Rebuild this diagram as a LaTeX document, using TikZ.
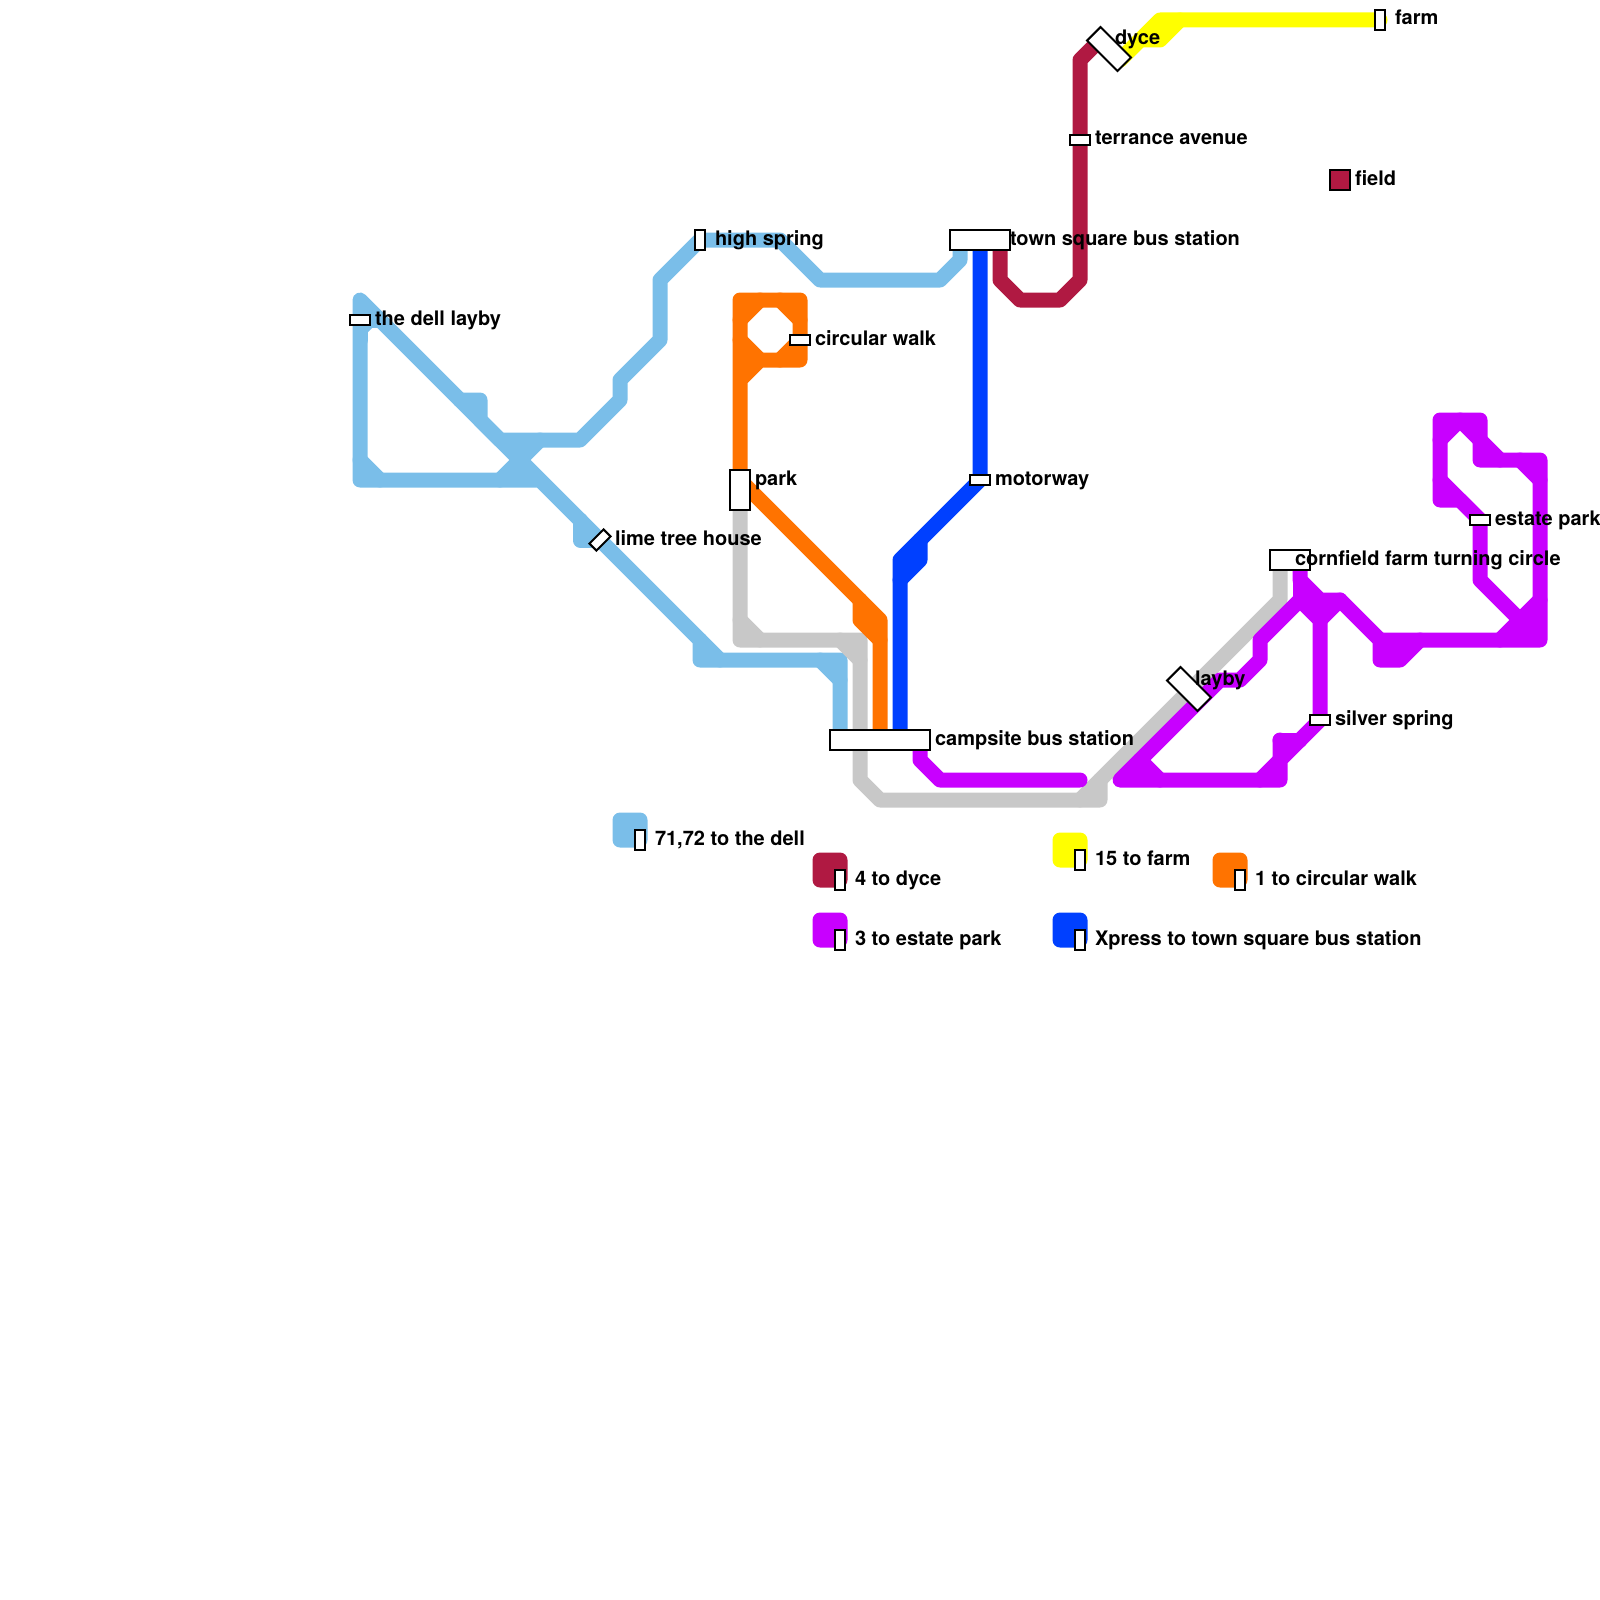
\documentclass[tikz,border=0pt]{standalone}
\usepackage{fontspec}
\setmainfont{TeX Gyre Heros}
\pgfdeclarelayer{lines}
\pgfsetlayers{lines,main}
\definecolor{cblue}{HTML}{7ABEE9}
\definecolor{ccrim}{HTML}{B01942}
\definecolor{corange}{HTML}{FF7300}
\definecolor{cpurple}{HTML}{C800FF}
\definecolor{cdeep}{HTML}{0040FF}
\definecolor{cyell}{HTML}{FFFF00}
\definecolor{cgrey}{HTML}{C8C8C8}
\tikzset{
  x=1pt,y=-1pt,
  route/.style={line width=15pt,line cap=round,line join=round},
  stn/.style={draw=black,fill=white,line width=2pt,inner sep=0pt,outer sep=0pt,minimum width=#1},
  hs/.style={stn=20pt,minimum height=10pt},
  vs/.style={stn=10pt,minimum height=20pt},
  lbl/.style={anchor=base west,inner sep=0pt,outer sep=0pt,font=\bfseries\fontsize{20pt}{20pt}\selectfont,text=black},
  swatch/.style={fill=#1,draw=none,minimum size=35pt,rounded corners=7.5pt,inner sep=0pt,outer sep=0pt}
}
\begin{document}
\begin{tikzpicture}
\useasboundingbox (0,0) rectangle (1600,1600);
% legend swatches
\node[swatch=cblue] (sw71) at (630,830) {};
\node[swatch=ccrim] (sw4) at (830,870) {};
\node[swatch=cpurple] (sw3) at (830,930) {};
\node[swatch=cyell] (sw15) at (1070,850) {};
\node[swatch=cdeep] (swx) at (1070,930) {};
\node[swatch=corange] (sw1) at (1230,870) {};
% stations
\node[hs] (dell) at (360,320) {};
\node[vs] (spring) at (700,240) {};
\node[hs,rotate=45] (lime) at (600,540) {};
\node[hs] (walk) at (800,340) {};
\node[stn=20pt,minimum height=40pt] (park) at (740,490) {};
\node[hs] (motorway) at (980,480) {};
\node[stn=100pt,minimum height=20pt] (camp) at (880,740) {};
\node[stn=60pt,minimum height=20pt] (town) at (980,240) {};
\node[hs] (terrance) at (1080,140) {};
\node[stn=43pt,minimum height=19pt,rotate=-45] (dyce) at (1109,49) {};
\node[vs] (farm) at (1380,20) {};
\node[stn=20pt,minimum height=20pt,fill=ccrim] (field) at (1340,180) {};
\node[stn=40pt,minimum height=20pt] (corn) at (1290,560) {};
\node[stn=43pt,minimum height=19pt,rotate=-45] (layby) at (1189,689) {};
\node[hs] (silver) at (1320,720) {};
\node[hs] (estate) at (1480,520) {};
\node[vs] (k71) at (640,840) {};
\node[vs] (k4) at (840,880) {};
\node[vs] (k3) at (840,940) {};
\node[vs] (k15) at (1080,860) {};
\node[vs] (kx) at (1080,940) {};
\node[vs] (k1) at (1240,880) {};
% labels
\node[lbl] (t1) at (375,325) {the dell layby};
\node[lbl] (t2) at (715,245) {high spring};
\node[lbl] (t3) at (615,545) {lime tree house};
\node[lbl] (t4) at (815,345) {circular walk};
\node[lbl] (t5) at (755,485) {park};
\node[lbl] (t6) at (995,485) {motorway};
\node[lbl] (t7) at (935,745) {campsite bus station};
\node[lbl] (t8) at (1010,245) {town square bus station};
\node[lbl] (t9) at (1095,145) {terrance avenue};
\node[lbl] (t10) at (1115,45) {dyce};
\node[lbl] (t11) at (1395,25) {farm};
\node[lbl] (t12) at (1355,185) {field};
\node[lbl] (t13) at (1295,565) {cornfield farm turning circle};
\node[lbl] (t14) at (1195,685) {layby};
\node[lbl] (t15) at (1335,725) {silver spring};
\node[lbl] (t16) at (1495,525) {estate park};
\node[lbl] (t17) at (655,845) {71,72 to the dell};
\node[lbl] (t18) at (855,885) {4 to dyce};
\node[lbl] (t19) at (855,945) {3 to estate park};
\node[lbl] (t20) at (1095,865) {15 to farm};
\node[lbl] (t21) at (1095,945) {Xpress to town square bus station};
\node[lbl] (t22) at (1255,885) {1 to circular walk};
\begin{pgfonlayer}{lines}
% 71,72
\fill[cblue] (360,300) -- (380,320) -- (360,340) -- cycle
  (360,460) -- (380,480) -- (360,480) -- cycle
  (460,400) -- (480,400) -- (480,420) -- cycle
  (500,440) -- (540,440) -- (520,460) -- cycle
  (500,480) -- (540,480) -- (520,460) -- cycle
  (580,520) -- (600,540) -- (580,540) -- cycle
  (700,640) -- (720,660) -- (700,660) -- cycle
  (820,660) -- (840,660) -- (840,680) -- cycle;
\draw[route,cblue] ([xshift=-40pt]camp.center) -- (840,660) -- (700,660) -- (700,640) -- (lime.center) -- (580,520) -- (360,300) -- (dell.center) -- (360,480) -- (540,480);
\draw[route,cblue] (lime.center) -- (580,540) -- (580,520);
\draw[route,cblue] (360,340) -- (dell.center) -- (380,320);
\draw[route,cblue] (360,460) -- (380,480);
\draw[route,cblue] (700,640) -- (720,660);
\draw[route,cblue] (820,660) -- (840,680);
\draw[route,cblue] (500,480) -- (540,440);
\draw[route,cblue] (460,400) -- (480,400) -- (480,420) -- (500,440) -- (580,440) -- (620,400) -- (620,380) -- (660,340) -- (660,280) -- (spring.center) -- (780,240) -- (820,280) -- (940,280) -- (960,260) -- ([xshift=-20pt]town.center);
% grey
\fill[cgrey] (740,620) -- (760,640) -- (740,640) -- cycle
  (840,640) -- (860,640) -- (860,660) -- cycle
  (1080,800) -- (1100,780) -- (1100,800) -- cycle;
\draw[route,cgrey] (park.center) -- (740,640) -- (860,640) -- (860,780) -- (880,800) -- (1100,800) -- (1100,780);
\draw[route,cgrey] (740,620) -- (760,640);
\draw[route,cgrey] (840,640) -- (860,660);
\draw[route,cgrey] (1080,800) -- (1280,600) -- ([xshift=-10pt]corn.center);
% orange
\fill[corange] (740,300) -- (760,300) -- (740,320) -- cycle
  (780,300) -- (800,300) -- (800,320) -- cycle
  (800,340) -- (800,360) -- (780,360) -- cycle
  (740,340) -- (760,360) -- (740,380) -- cycle
  (860,600) -- (880,620) -- (880,640) -- (860,620) -- cycle;
\draw[route,corange] (park.center) -- (740,300) -- (800,300) -- (800,360) -- (760,360) -- (740,380);
\draw[route,corange] (740,320) -- (760,300);
\draw[route,corange] (780,300) -- (800,320);
\draw[route,corange] (740,340) -- (760,360);
\draw[route,corange] (780,360) -- (walk.center);
\draw[route,corange] ([yshift=10pt]park.center) -- (880,620) -- (camp.center);
\draw[route,corange] (860,600) -- (860,620) -- (880,640);
% xpress
\fill[cdeep] (900,560) -- (920,540) -- (920,560) -- (900,580) -- cycle;
\draw[route,cdeep] (town.center) -- (motorway.center) -- (900,560) -- ([xshift=20pt]camp.center);
\draw[route,cdeep] (920,540) -- (920,560) -- (900,580);
% 4
\draw[route,ccrim] ([xshift=20pt]town.center) -- (1000,280) -- (1020,300) -- (1060,300) -- (1080,280) -- (terrance.center) -- (1080,60) -- ([shift={(-9pt,9pt)}]dyce.center);
% 15
\fill[cyell] (1160,20) -- (1180,20) -- (1160,40) -- (1140,40) -- cycle;
\draw[route,cyell] (farm.center) -- (1160,20) -- (1120,60);
\draw[route,cyell] (1180,20) -- (1160,40) -- (1140,40) -- (1120,60);
% 3
\fill[cpurple] (1120,780) -- (1140,760) -- (1160,780) -- cycle
  (1260,780) -- (1280,760) -- (1280,780) -- cycle
  (1280,740) -- (1300,740) -- (1280,760) -- cycle
  (1300,580) -- (1320,600) -- (1340,600) -- (1320,620) -- (1300,600) -- cycle
  (1380,640) -- (1420,640) -- (1400,660) -- (1380,660) -- cycle
  (1520,620) -- (1540,600) -- (1540,640) -- cycle
  (1500,640) -- (1540,640) -- (1520,620) -- cycle
  (1520,460) -- (1540,460) -- (1540,480) -- cycle
  (1480,440) -- (1500,460) -- (1480,460) -- cycle
  (1440,420) -- (1460,420) -- (1440,440) -- cycle
  (1460,420) -- (1480,420) -- (1480,440) -- cycle
  (1440,480) -- (1460,500) -- (1440,500) -- cycle;
\draw[route,cpurple] ([xshift=40pt]camp.center) -- (920,760) -- (940,780) -- (1080,780);
\draw[route,cpurple] (1280,740) -- (1280,780) -- (1120,780) -- (1220,680) -- (1240,680) -- (1260,660) -- (1260,640) -- (1300,600) -- (1320,620) -- (silver.center) -- (1280,760);
\draw[route,cpurple] (1140,760) -- (1160,780);
\draw[route,cpurple] (1260,780) -- (1280,760);
\draw[route,cpurple] (1280,740) -- (1300,740);
\draw[route,cpurple] ([xshift=10pt]corn.center) -- (1300,580) -- (1320,600) -- (1340,600) -- (1380,640) -- (1380,660) -- (1400,660) -- (1420,640);
\draw[route,cpurple] (1300,580) -- (1300,600);
\draw[route,cpurple] (1320,620) -- (1340,600);
\draw[route,cpurple] (1380,640) -- (1540,640) -- (1540,460) -- (1480,460) -- (1480,420) -- (1440,420) -- (1440,500) -- (1460,500) -- (estate.center) -- (1480,580) -- (1540,640);
\draw[route,cpurple] (1500,640) -- (1540,600);
\draw[route,cpurple] (1520,460) -- (1540,480);
\draw[route,cpurple] (1480,440) -- (1500,460);
\draw[route,cpurple] (1440,440) -- (1460,420) -- (1480,440);
\draw[route,cpurple] (1440,480) -- (estate.center);
\end{pgfonlayer}
\end{tikzpicture}
\end{document}
